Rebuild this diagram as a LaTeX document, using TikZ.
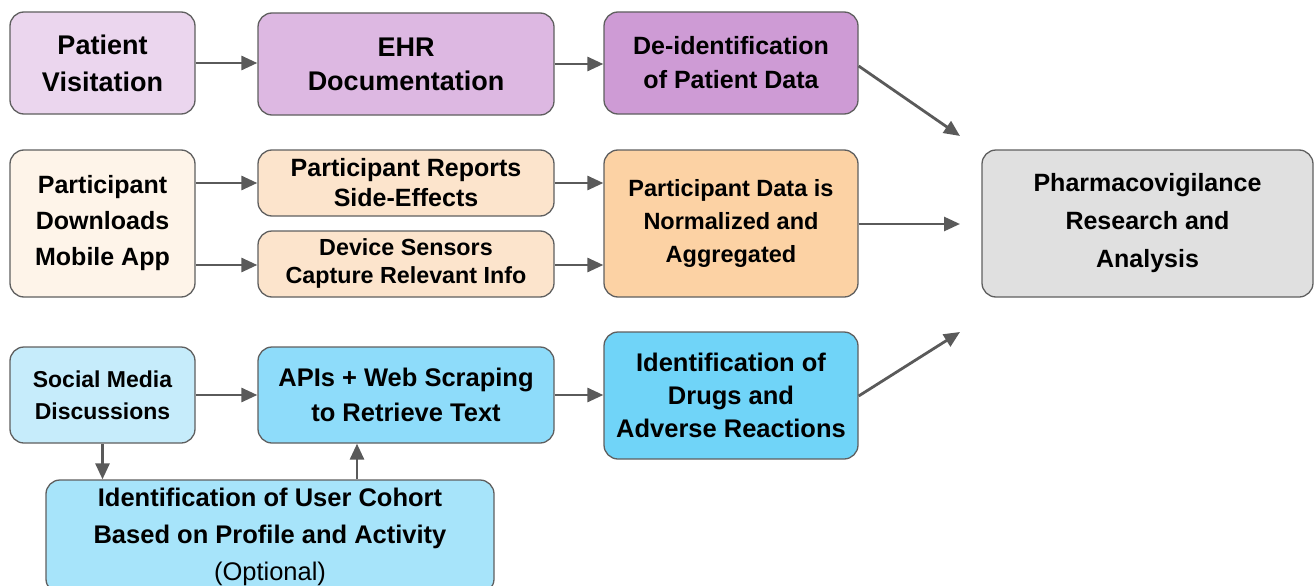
\documentclass[tikz,border=0pt]{standalone}
\usepackage{fontspec}
\setmainfont{Liberation Sans}
\usetikzlibrary{arrows.meta}
\definecolor{cpv}{RGB}{235,214,238}
\definecolor{cehr}{RGB}{221,184,226}
\definecolor{cdeid}{RGB}{206,155,213}
\definecolor{cdl}{RGB}{254,244,233}
\definecolor{crep}{RGB}{252,228,204}
\definecolor{cnorm}{RGB}{252,210,164}
\definecolor{cpharma}{RGB}{224,224,224}
\definecolor{csoc}{RGB}{198,236,251}
\definecolor{capi}{RGB}{142,220,250}
\definecolor{cdrug}{RGB}{112,212,248}
\definecolor{ccoh}{RGB}{167,228,250}
\definecolor{cline}{RGB}{90,90,90}
\definecolor{cborder}{RGB}{95,95,95}
\tikzset{
  box/.style={draw=cborder, line width=1.3pt, rounded corners=14pt, align=center, inner sep=0pt, font=\bfseries},
  conn/.style={draw=cline, line width=2.8pt, -{Triangle[length=16pt,width=14pt]}},
}
\begin{document}
\begin{tikzpicture}[x=1pt,y=-1pt]
\useasboundingbox (0,0) rectangle (1314,586);
\node[box, fill=cpv, minimum width=185pt, minimum height=102pt, font=\bfseries\fontsize{27}{37}\selectfont] (pv) at (102.5,63) {Patient\\Visitation};
\node[box, fill=cehr, minimum width=296pt, minimum height=102pt, font=\bfseries\fontsize{27}{34}\selectfont] (ehr) at (406,64) {EHR\\Documentation};
\node[box, fill=cdeid, minimum width=254pt, minimum height=102pt, font=\bfseries\fontsize{25}{34}\selectfont] (deid) at (731,63) {De-identification\\of Patient Data};
\node[box, fill=cdl, minimum width=185pt, minimum height=147pt, font=\bfseries\fontsize{25}{36}\selectfont] (dl) at (102.5,223.5) {Participant\\Downloads\\Mobile App};
\node[box, fill=crep, minimum width=296pt, minimum height=66pt, font=\bfseries\fontsize{25}{30}\selectfont] (rep) at (406,183) {Participant Reports\\Side-Effects};
\node[box, fill=crep, minimum width=296pt, minimum height=66pt, font=\bfseries\fontsize{23.3}{28}\selectfont, text depth=6pt] (dev) at (406,264) {Device Sensors\\Capture Relevant Info};
\node[box, fill=cnorm, minimum width=254pt, minimum height=147pt, font=\bfseries\fontsize{23.5}{33}\selectfont] (norm) at (731,223.5) {Participant Data is\\Normalized and\\Aggregated};
\node[box, fill=cpharma, minimum width=331pt, minimum height=147pt, font=\bfseries\fontsize{25}{38}\selectfont] (pharma) at (1147.5,223.5) {Pharmacovigilance\\Research and\\Analysis};
\node[box, fill=csoc, minimum width=185pt, minimum height=96pt, font=\bfseries\fontsize{23}{32}\selectfont] (soc) at (102.5,395) {Social Media\\Discussions};
\node[box, fill=capi, minimum width=296pt, minimum height=96pt, font=\bfseries\fontsize{25.5}{35}\selectfont] (api) at (406,395) {APIs + Web Scraping\\to Retrieve Text};
\node[box, fill=cdrug, minimum width=254pt, minimum height=127pt, font=\bfseries\fontsize{25.5}{33}\selectfont] (drug) at (731,395.5) {Identification of\\Drugs and\\Adverse Reactions};
\node[box, fill=ccoh, minimum width=448pt, minimum height=113pt, font=\bfseries\fontsize{25.5}{37}\selectfont] (coh) at (270,536.5) {Identification of User Cohort\\Based on Profile and Activity\\{\mdseries (Optional)}};
\coordinate (p1) at (960,136);
\coordinate (p2) at (960,224);
\coordinate (p3) at (960,332);
\draw[conn] (pv.east) -- (ehr.west |- pv.east);
\draw[conn] (ehr.east) -- (deid.west |- ehr.east);
\draw[conn] (deid.east |- 0,66) -- (p1);
\draw[conn] (dl.east |- 0,183) -- (rep.west);
\draw[conn] (dl.east |- 0,265) -- (dev.west |- 0,265);
\draw[conn] (rep.east) -- (norm.west |- rep.east);
\draw[conn] (dev.east |- 0,265) -- (norm.west |- 0,265);
\draw[conn] (norm.east |- 0,224) -- (p2);
\draw[conn] (soc.east) -- (api.west);
\draw[conn] (api.east) -- (drug.west |- api.east);
\draw[conn] (drug.east |- 0,396) -- (p3);
\draw[conn] (soc.south) -- (soc.south |- coh.north);
\draw[conn] (coh.north -| 357,0) -- (api.south -| 357,0);
\end{tikzpicture}
\end{document}
